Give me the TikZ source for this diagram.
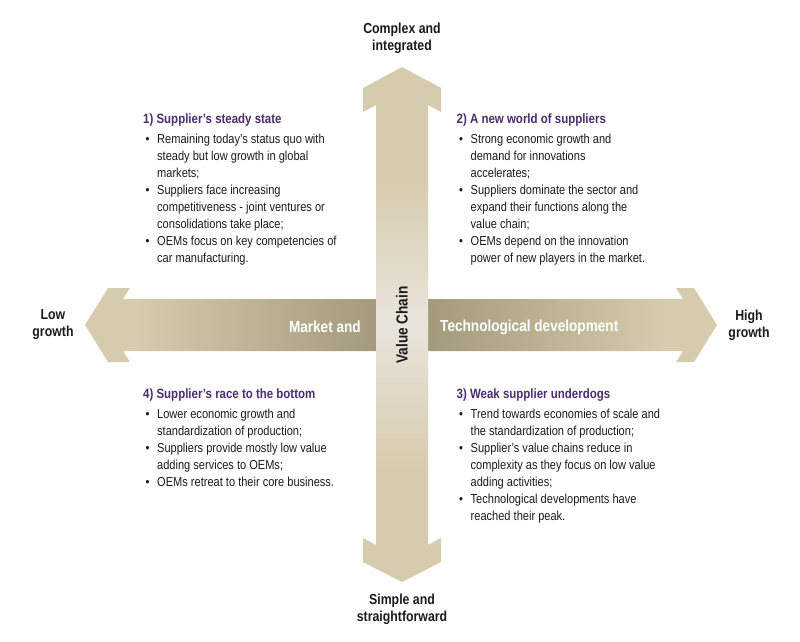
\documentclass[tikz,border=0pt]{standalone}
\usepackage{fontspec}
\setmainfont[FakeStretch=0.85]{Liberation Sans}
\definecolor{tanc}{HTML}{D6CBAD}
\definecolor{darkc}{HTML}{9E9476}
\definecolor{lightc}{HTML}{E9E5DC}
\definecolor{purp}{HTML}{4A2D6E}
\definecolor{textc}{HTML}{1A1A1A}
\pgfdeclarehorizontalshading{lshade}{100bp}{color(0bp)=(tanc); color(33bp)=(tanc); color(75bp)=(darkc); color(100bp)=(darkc)}
\pgfdeclarehorizontalshading{rshade}{100bp}{color(0bp)=(darkc); color(25bp)=(darkc); color(67bp)=(tanc); color(100bp)=(tanc)}
\pgfdeclareverticalshading{vshade}{100bp}{color(0bp)=(tanc); color(25bp)=(tanc); color(36bp)=(tanc); color(50bp)=(lightc); color(64bp)=(tanc); color(75bp)=(tanc); color(100bp)=(tanc)}
\newcommand{\bitem}{\makebox[14pt][l]{\hspace{2.5pt}\textbullet}}
\newcommand{\bcont}{\hspace*{14pt}}
\newcommand{\qtitle}[1]{{\color{purp}\bfseries\fontsize{13.5}{17}\selectfont #1}}
\tikzset{
  body/.style={anchor=north west, inner sep=0pt, align=left, text=textc, font=\fontsize{13}{17}\selectfont},
  axislbl/.style={inner sep=0pt, align=center, text=textc, font=\fontsize{14.5}{17}\selectfont\bfseries},
  arrowlbl/.style={inner sep=0pt, font=\fontsize{16}{18}\selectfont\bfseries}
}
\begin{document}
\begin{tikzpicture}[x=1pt,y=-1pt]
\useasboundingbox (0,0) rectangle (800,642);
% horizontal arrow, two halves
\shade[shading=lshade] (85,325) -- (108,288) -- (130,288) -- (123,299) -- (402,299) -- (402,351) -- (123,351) -- (130,362) -- (108,362) -- cycle;
\shade[shading=rshade] (717,325) -- (694,288) -- (676,288) -- (683,299) -- (401,299) -- (401,351) -- (683,351) -- (676,362) -- (694,362) -- cycle;
% vertical arrow
\shade[shading=vshade] (402,67) -- (441,88) -- (441,112) -- (428,105) -- (428,545) -- (441,538) -- (441,562) -- (402,582) -- (363,562) -- (363,538) -- (376,545) -- (376,105) -- (363,112) -- (363,88) -- cycle;
% arrow labels
\node[arrowlbl, text=white, anchor=east] (mkt) at (361,327) {Market and};
\node[arrowlbl, text=white, anchor=west] (tech) at (440,327) {Technological development};
\node[arrowlbl, text=textc, rotate=90] (vc) at (402,325) {Value Chain};
% axis end labels
\node[axislbl] (top) at (402,38) {Complex and\\integrated};
\node[axislbl] (bot) at (402,609) {Simple and\\straightforward};
\node[axislbl] (low) at (53,325) {Low\\growth};
\node[axislbl] (high) at (749,325) {High\\growth};
% quadrants
\node[body] (q1) at (143,114) {\qtitle{1) Supplier's steady state}\\[3pt]
\bitem Remaining today's status quo with\\
\bcont steady but low growth in global\\
\bcont markets;\\
\bitem Suppliers face increasing\\
\bcont competitiveness - joint ventures or\\
\bcont consolidations take place;\\
\bitem OEMs focus on key competencies of\\
\bcont car manufacturing.};
\node[body] (q2) at (456.5,114) {\qtitle{2) A new world of suppliers}\\[3pt]
\bitem Strong economic growth and\\
\bcont demand for innovations\\
\bcont accelerates;\\
\bitem Suppliers dominate the sector and\\
\bcont expand their functions along the\\
\bcont value chain;\\
\bitem OEMs depend on the innovation\\
\bcont power of new players in the market.};
\node[body] (q4) at (143,389) {\qtitle{4) Supplier's race to the bottom}\\[3pt]
\bitem Lower economic growth and\\
\bcont standardization of production;\\
\bitem Suppliers provide mostly low value\\
\bcont adding services to OEMs;\\
\bitem OEMs retreat to their core business.};
\node[body] (q3) at (456.5,389) {\qtitle{3) Weak supplier underdogs}\\[3pt]
\bitem Trend towards economies of scale and\\
\bcont the standardization of production;\\
\bitem Supplier's value chains reduce in\\
\bcont complexity as they focus on low value\\
\bcont adding activities;\\
\bitem Technological developments have\\
\bcont reached their peak.};
\end{tikzpicture}
\end{document}
